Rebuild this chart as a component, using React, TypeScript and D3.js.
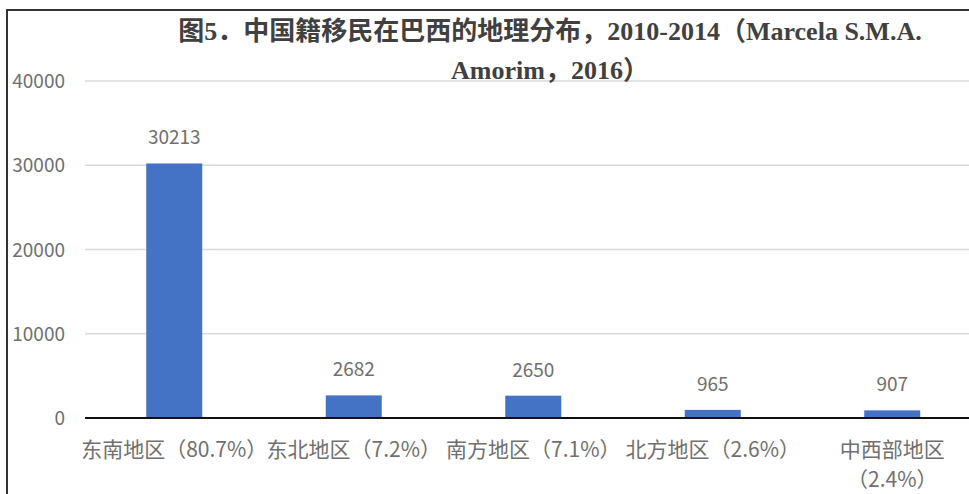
import React, { useEffect, useRef } from 'react';
import * as d3 from 'd3';

// data
const categories = [
  '东南地区（80.7%）',
  '东北地区（7.2%）',
  '南方地区（7.1%）',
  '北方地区（2.6%）',
  '中西部地区\n（2.4%）',
];
const values = [30213, 2682, 2650, 965, 907];
const yTicks = [0, 10000, 20000, 30000, 40000];
const titleLines = [
  '图5．中国籍移民在巴西的地理分布，2010-2014（Marcela S.M.A.',
  'Amorim，2016）',
];

const W = 969;
const H = 494;

const App: React.FC = () => {
  const svgRef = useRef<SVGSVGElement>(null);

  useEffect(() => {
    document.body.style.margin = '0';
    if (!svgRef.current) return;

    const svg = d3.select(svgRef.current);
    svg.selectAll('*').remove();

    const sans = '"Noto Sans CJK SC", "Noto Sans", sans-serif';
    const textGray = '#6f6f6f';

    svg.append('rect').attr('width', W).attr('height', H).attr('fill', '#fff');

    // Scales
    const x = d3
      .scaleBand<string>()
      .domain(categories)
      .range([84.5, 982])
      .paddingInner(0.688)
      .paddingOuter(0.344);

    const y = d3.scaleLinear().domain([0, 40000]).range([418, 81]);

    // grid lines
    svg
      .append('g')
      .selectAll('line')
      .data(yTicks.filter(d => d > 0))
      .enter()
      .append('line')
      .attr('x1', 85)
      .attr('x2', W)
      .attr('y1', d => y(d))
      .attr('y2', d => y(d))
      .attr('stroke', '#d9d9d9')
      .attr('stroke-width', 1.5);

    // y tick labels
    svg
      .append('g')
      .selectAll('text')
      .data(yTicks)
      .enter()
      .append('text')
      .attr('x', 65)
      .attr('y', d => y(d) + 7)
      .attr('text-anchor', 'end')
      .style('font-family', sans)
      .style('font-size', '19px')
      .style('fill', textGray)
      .text(d => String(d));

    // bars
    svg
      .append('g')
      .selectAll('rect')
      .data(values)
      .enter()
      .append('rect')
      .attr('x', (d, i) => x(categories[i]) || 0)
      .attr('y', d => y(d))
      .attr('width', x.bandwidth())
      .attr('height', d => y(0) - y(d))
      .attr('fill', '#4472c4');

    // value labels
    svg
      .append('g')
      .selectAll('text')
      .data(values)
      .enter()
      .append('text')
      .attr('x', (d, i) => (x(categories[i]) || 0) + x.bandwidth() / 2)
      .attr('y', d => y(d) - 19)
      .attr('text-anchor', 'middle')
      .style('font-family', sans)
      .style('font-size', '19px')
      .style('fill', textGray)
      .text(d => String(d));

    // baseline
    svg
      .append('line')
      .attr('x1', 85)
      .attr('x2', W)
      .attr('y1', y(0))
      .attr('y2', y(0))
      .attr('stroke', '#111')
      .attr('stroke-width', 2.2);

    // category labels (wrapped)
    const cat = svg
      .append('g')
      .selectAll('text')
      .data(categories)
      .enter()
      .append('text')
      .attr('text-anchor', 'middle')
      .style('font-family', sans)
      .style('font-size', '21px')
      .style('fill', textGray);
    cat.each(function (d) {
      const cx = (x(d) || 0) + x.bandwidth() / 2;
      d.split('\n').forEach((line, j) => {
        d3.select(this)
          .append('tspan')
          .attr('x', cx)
          .attr('y', 457 + j * 30)
          .text(line);
      });
    });

    // title
    svg
      .append('g')
      .selectAll('text')
      .data(titleLines)
      .enter()
      .append('text')
      .attr('x', 550)
      .attr('y', (d, i) => 40 + i * 39)
      .attr('text-anchor', 'middle')
      .style('font-family', '"Liberation Serif", "Noto Sans CJK SC", serif')
      .style('font-weight', 'bold')
      .style('font-size', '26px')
      .style('fill', '#404040')
      .text(d => d);

    // frame (left + top edges of the cropped picture)
    svg
      .append('path')
      .attr('d', `M7,${H} L7,10 L${W},10`)
      .attr('fill', 'none')
      .attr('stroke', '#333')
      .attr('stroke-width', 2);
  }, []);

  return <svg ref={svgRef} width={W} height={H} style={{ display: 'block' }} />;
};

export default App;
